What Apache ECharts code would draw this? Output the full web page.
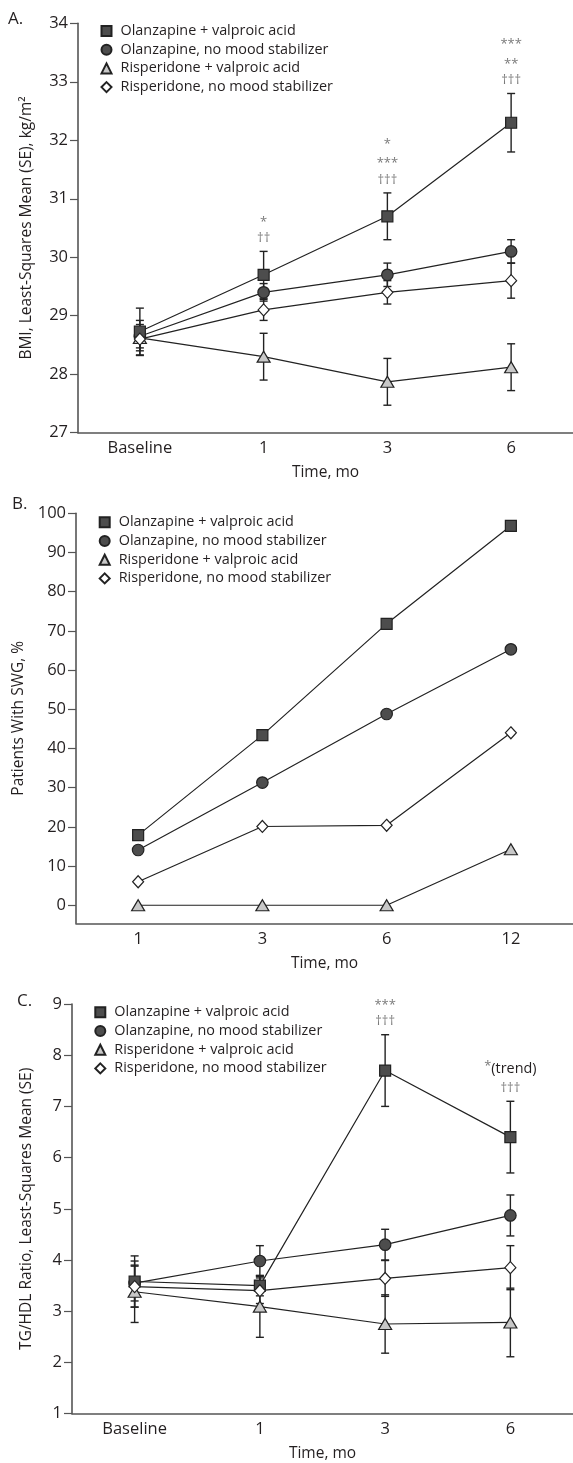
<!DOCTYPE html>
<html>
<head>
<meta charset="utf-8">
<script src="https://cdn.jsdelivr.net/npm/echarts@6/dist/echarts.min.js"></script>
<style>
html, body { margin: 0; padding: 0; background: #fff; }
#chart { width: 573px; height: 1463px; }
</style>
</head>
<body>
<div id="chart"></div>
<script>
// group names (legend order)
const groupNames = [
  'Olanzapine + valproic acid',
  'Olanzapine, no mood stabilizer',
  'Risperidone + valproic acid',
  'Risperidone, no mood stabilizer'
];
const panelLetters = ['A.', 'B.', 'C.'];

// A. BMI
const bmiTimes = ['Baseline', '1', '3', '6'];
const bmiOlzVpa = [28.73, 29.7, 30.7, 32.3];
const bmiOlzVpaSE = [0.4, 0.4, 0.4, 0.5];
const bmiOlz = [28.65, 29.4, 29.7, 30.1];
const bmiOlzSE = [0.2, 0.15, 0.2, 0.2];
const bmiRispVpa = [28.62, 28.3, 27.87, 28.12];
const bmiRispVpaSE = [0.3, 0.4, 0.4, 0.4];
const bmiRisp = [28.6, 29.1, 29.4, 29.6];
const bmiRispSE = [0.2, 0.18, 0.2, 0.3];
const bmiNotes = [[], ['*', '††'], ['*', '***', '†††'], ['***', '**', '†††']];

// B. patients with SWG, %
const swgTimes = ['1', '3', '6', '12'];
const swgOlzVpa = [17.9, 43.4, 71.8, 96.8];
const swgOlz = [14.1, 31.3, 48.8, 65.3];
const swgRispVpa = [0, 0, 0, 14.3];
const swgRisp = [6.0, 20.1, 20.4, 44.0];
const swgTicks = [0, 10, 20, 30, 40, 50, 60, 70, 80, 90, 100];

// C. TG/HDL ratio
const tgTimes = ['Baseline', '1', '3', '6'];
const tgOlzVpa = [3.58, 3.5, 7.7, 6.4];
const tgOlzVpaSE = [0.5, 0.2, 0.7, 0.7];
const tgOlz = [3.55, 3.98, 4.3, 4.87];
const tgOlzSE = [0.35, 0.3, 0.3, 0.4];
const tgRispVpa = [3.38, 3.09, 2.75, 2.78];
const tgRispVpaSE = [0.6, 0.6, 0.57, 0.67];
const tgRisp = [3.48, 3.4, 3.64, 3.85];
const tgRispSE = [0.4, 0.25, 0.35, 0.43];
const tgNotes = [[], [], ['***', '†††'], ['*(trend)', '†††']];

const FONT = '"Open Sans", "Noto Sans", sans-serif';
const INK = '#231f20';
const AXIS = '#555';
const NOTE = '#7a7a7a';

// symbol looks, same order as groupNames
const looks = [
  { symbol: 'rect', size: 11, fill: '#4d4d4d' },
  { symbol: 'circle', size: 11.5, fill: '#4d4d4d' },
  { symbol: 'triangle', size: [13, 11], fill: '#c8c8c8' },
  { symbol: 'diamond', size: [11, 12], fill: '#ffffff' }
];

const panels = [
  {
    times: bmiTimes, values: [bmiOlzVpa, bmiOlz, bmiRispVpa, bmiRisp],
    se: [bmiOlzVpaSE, bmiOlzSE, bmiRispVpaSE, bmiRispSE], notes: bmiNotes,
    grid: { left: 78, top: 23.3, width: 508, height: 409.4 },
    y: { min: 27, max: 34, interval: 1 },
    yName: 'BMI, Least-Squares Mean (SE), kg/m²', yGap: 43,
    legend: { left: 100.5, top: 24 }, letterPos: [8, 11]
  },
  {
    times: swgTimes, values: [swgOlzVpa, swgOlz, swgRispVpa, swgRisp],
    se: null, notes: null,
    grid: { left: 76, top: 513.3, width: 508, height: 410 },
    y: { min: -4.6, max: 100, custom: swgTicks },
    yName: 'Patients With SWG, %', yGap: 48,
    legend: { left: 98.7, top: 515.3 }, letterPos: [12, 496]
  },
  {
    times: tgTimes, values: [tgOlzVpa, tgOlz, tgRispVpa, tgRisp],
    se: [tgOlzVpaSE, tgOlzSE, tgRispVpaSE, tgRispSE], notes: tgNotes,
    grid: { left: 72, top: 1004, width: 507.2, height: 409.6 },
    y: { min: 1, max: 9, interval: 1 },
    yName: 'TG/HDL Ratio, Least-Squares Mean (SE)', yGap: 37,
    legend: { left: 94.3, top: 1005.3 }, letterPos: [17, 993]
  }
];

function errorBars(pi, means, ses) {
  return {
    type: 'custom', xAxisIndex: pi, yAxisIndex: pi, z: 2, silent: true,
    data: means.map((m, i) => [i, m - ses[i], m + ses[i]]),
    renderItem: (params, api) => {
      const lo = api.coord([api.value(0), api.value(1)]);
      const hi = api.coord([api.value(0), api.value(2)]);
      const hw = 4;
      const style = { stroke: '#222', lineWidth: 1.4 };
      return {
        type: 'group', children: [
          { type: 'line', shape: { x1: lo[0], y1: lo[1], x2: hi[0], y2: hi[1] }, style },
          { type: 'line', shape: { x1: lo[0] - hw, y1: lo[1], x2: lo[0] + hw, y2: lo[1] }, style },
          { type: 'line', shape: { x1: hi[0] - hw, y1: hi[1], x2: hi[0] + hw, y2: hi[1] }, style }
        ]
      };
    }
  };
}

function noteMarks(pi, means, ses, notes) {
  const data = [];
  notes.forEach((lines, i) => { if (lines.length) data.push([i, means[i] + ses[i]]); });
  return {
    type: 'custom', xAxisIndex: pi, yAxisIndex: pi, z: 5, silent: true,
    data,
    renderItem: (params, api) => {
      const i = api.value(0);
      const p = api.coord([i, api.value(1)]);
      const lines = notes[i];
      return {
        type: 'group',
        children: lines.map((t, k) => {
          const up = lines.length - 1 - k;
          let y = p[1] - 13 - up * 19.5;
          if (/^\*+$/.test(t)) y += 3;
          if (t.indexOf('(') >= 0) {
            return {
              type: 'text', x: p[0], y,
              style: {
                text: '{s|*}{t|' + t.slice(1) + '}', align: 'center', verticalAlign: 'middle',
                rich: {
                  s: { fill: NOTE, fontSize: 13, fontFamily: FONT, padding: [0, 0, 4, 0] },
                  t: { fill: INK, fontSize: 14.4, fontFamily: FONT }
                }
              }
            };
          }
          return {
            type: 'text', x: p[0], y,
            style: { text: t, fill: NOTE, fontSize: 13, fontFamily: FONT, align: 'center', verticalAlign: 'middle' }
          };
        })
      };
    }
  };
}

const series = [];
panels.forEach((p, pi) => {
  if (p.se) p.values.forEach((v, gi) => series.push(errorBars(pi, v, p.se[gi])));
  // draw order: triangle, circle, square, diamond
  [2, 1, 0, 3].forEach(gi => {
    const lk = looks[gi];
    series.push({
      name: groupNames[gi], type: 'line', xAxisIndex: pi, yAxisIndex: pi, z: 3,
      data: p.values[gi], symbol: lk.symbol, symbolSize: lk.size, showAllSymbol: true,
      itemStyle: { color: lk.fill, borderColor: '#222', borderWidth: 1.2 },
      lineStyle: { color: '#222', width: 1.2 },
      emphasis: { disabled: true }
    });
  });
  if (p.notes) series.push(noteMarks(pi, p.values[0], p.se[0], p.notes));
});

const nameStyle = { fontFamily: FONT, fontSize: 15.5, color: INK };

const option = {
  animation: false,
  backgroundColor: '#fff',
  grid: panels.map(p => p.grid),
  xAxis: panels.map((p, pi) => ({
    type: 'category', gridIndex: pi, data: p.times, boundaryGap: true,
    axisLine: { onZero: false, lineStyle: { color: AXIS, width: 1.6 } },
    axisTick: { alignWithLabel: true, length: 7, lineStyle: { color: AXIS, width: 1.2 } },
    axisLabel: { margin: 7, fontSize: 16.5, color: INK, fontFamily: FONT },
    splitLine: { show: false },
    name: 'Time, mo', nameLocation: 'middle', nameGap: 32, nameTextStyle: nameStyle
  })),
  yAxis: panels.map((p, pi) => {
    const ax = {
      type: 'value', gridIndex: pi, min: p.y.min, max: p.y.max,
      axisLine: { show: true, lineStyle: { color: AXIS, width: 1.6 } },
      axisTick: { show: true, length: 8, lineStyle: { color: AXIS, width: 1.2 } },
      axisLabel: { margin: 10, fontSize: 16.5, color: INK, fontFamily: FONT },
      splitLine: { show: false },
      name: p.yName, nameLocation: 'middle', nameGap: p.yGap, nameTextStyle: nameStyle
    };
    if (p.y.custom) {
      ax.axisTick.customValues = p.y.custom;
      ax.axisLabel.customValues = p.y.custom;
    } else {
      ax.interval = p.y.interval;
    }
    return ax;
  }),
  legend: panels.map(p => ({
    orient: 'vertical', left: p.legend.left, top: p.legend.top, padding: 0,
    itemWidth: 10, itemHeight: 10, itemGap: 4.7, selectedMode: false,
    data: groupNames.map((n, gi) => ({ name: n, icon: looks[gi].symbol })),
    textStyle: { fontFamily: FONT, fontSize: 14.4, color: INK, lineHeight: 14, padding: [0, 0, 0, 4] }
  })),
  graphic: panels.map((p, pi) => ({
    type: 'text', left: p.letterPos[0], top: p.letterPos[1],
    style: { text: panelLetters[pi], fontFamily: FONT, fontSize: 17, fill: INK }
  })),
  series
};

echarts.init(document.getElementById('chart')).setOption(option);
</script>
</body>
</html>
